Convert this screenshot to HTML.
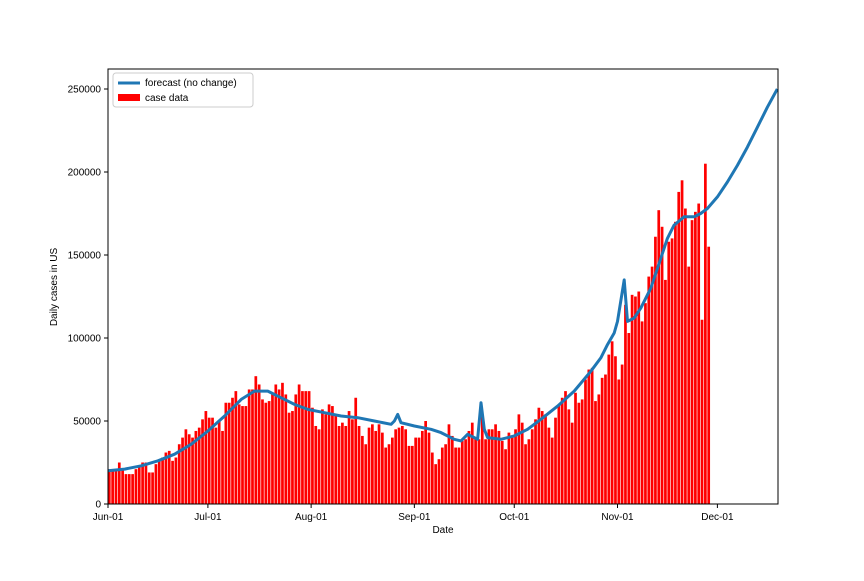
<!DOCTYPE html>
<html><head><meta charset="utf-8"><style>
body{margin:0;background:#fff;font-family:"Liberation Sans","DejaVu Sans",sans-serif}
svg text{font-family:"Liberation Sans","DejaVu Sans",sans-serif;font-size:10px;fill:#000}
</style></head><body>
<svg id="chart" width="864" height="576"></svg>
<script>
const bars=[21,21,21,25,21,18,18,18,21,23,25,25,19,19,24,27,28,31,32,26,28,36,40,45,42,40,44,46,51,56,52,52,46,50,44,61,61,64,68,60,59,59,69,69,77,72,63,61,62,66,72,69,73,66,55,56,66,72,68,
68,68,58,47,45,57,54,60,59,54,47,49,47,56,51,64,47,41,36,46,48,44,48,43,34,36,40,45,46,47,45,35,35,40,40,44,50,43,31,24,27,34,36,48,41,34,34,38,39,44,49,40,39,53,39,45,45,48,44,38,
33,43,40,45,54,49,36,39,45,51,58,56,54,46,40,52,60,64,68,57,49,67,61,63,75,81,82,62,66,76,78,90,98,89,
75,84,120,103,126,125,128,110,121,137,143,161,177,167,135,158,160,170,188,195,178,143,171,176,181,111,205,155];
const fcDays=[0,5,10,15,20,25,30,35,40,44,48,52,56,60,65,70,75,80,85,86,87,88,92,97,100,104,106,108,110,111,112,113,114,118,122,126,130,135,140,145,148,150,152,153,155,156,158,160,163,166,168,170,173,176,178,180,183,186,189,192,195,198,201];
const fcVals=[20,21,23,26,30,36,44,53,63,68,68,64,60,57,55,53,52,50,48,50,54,49,47,45,43,39,38,42,40,39,61,45,40,39,41,45,51,59,68,80,88,96,103,110,135,110,112,118,130,148,160,168,173,173,175,178,185,194,204,215,227,239,250];
const yTicks=[0,50000,100000,150000,200000,250000];
const xTickDays=[0,30,61,92,122,153,183];
const xTickLabels=["Jun-01","Jul-01","Aug-01","Sep-01","Oct-01","Nov-01","Dec-01"];
const L=108,R=778,T=69,B=504;
const xs=d=>L+d*(R-L)/201.2;
const ys=v=>B-v*415/250000;
const NS="http://www.w3.org/2000/svg";
const svg=document.getElementById('chart');
function mk(t,a,p){const e=document.createElementNS(NS,t);for(const k in a)e.setAttribute(k,a[k]);(p||svg).appendChild(e);return e;}
const gb=mk('g',{});


bars.forEach((v,i)=>{const w=2.7;const r=mk('rect',{x:xs(i)-w/2+1.3,y:ys(v*1000),width:w,height:B-ys(v*1000),fill:'#ff0000'},gb);

});
let d='';fcDays.forEach((x,i)=>{d+=(i?'L':'M')+xs(x).toFixed(1)+','+ys(fcVals[i]*1000).toFixed(1);});
const ln=mk('path',{d:d,fill:'none',stroke:'#1f77b4','stroke-width':3,'stroke-linejoin':'round'});


const fr=mk('rect',{x:L,y:T,width:R-L,height:B-T,fill:'none',stroke:'#000','stroke-width':1});


yTicks.forEach(v=>{const y=ys(v);mk('line',{x1:L-4,x2:L,y1:y,y2:y,stroke:'#000'});
const t=mk('text',{x:L-7,y:y+3.5,'text-anchor':'end'});t.textContent=v;

});
xTickDays.forEach((dd,i)=>{const x=xs(dd);mk('line',{x1:x,x2:x,y1:B,y2:B+4,stroke:'#000'});
const t=mk('text',{x:x,y:B+16,'text-anchor':'middle'});t.textContent=xTickLabels[i];

});
const xt=mk('text',{x:443,y:533,'text-anchor':'middle'});xt.textContent='Date';


const yt=mk('text',{x:0,y:0,'text-anchor':'middle',transform:'translate(57,287) rotate(-90)'});yt.textContent='Daily cases in US';


const lg=mk('g',{});


mk('rect',{x:113,y:73,width:140,height:34,rx:3,fill:'#fff',stroke:'#ccc'},lg);
mk('line',{x1:118,x2:140,y1:83,y2:83,stroke:'#1f77b4','stroke-width':3},lg);
const t1=mk('text',{x:145,y:86},lg);t1.textContent='forecast (no change)';


mk('rect',{x:118,y:94,width:22,height:7,fill:'#ff0000'},lg);
const t2=mk('text',{x:145,y:101},lg);t2.textContent='case data';


</script>
</body></html>
